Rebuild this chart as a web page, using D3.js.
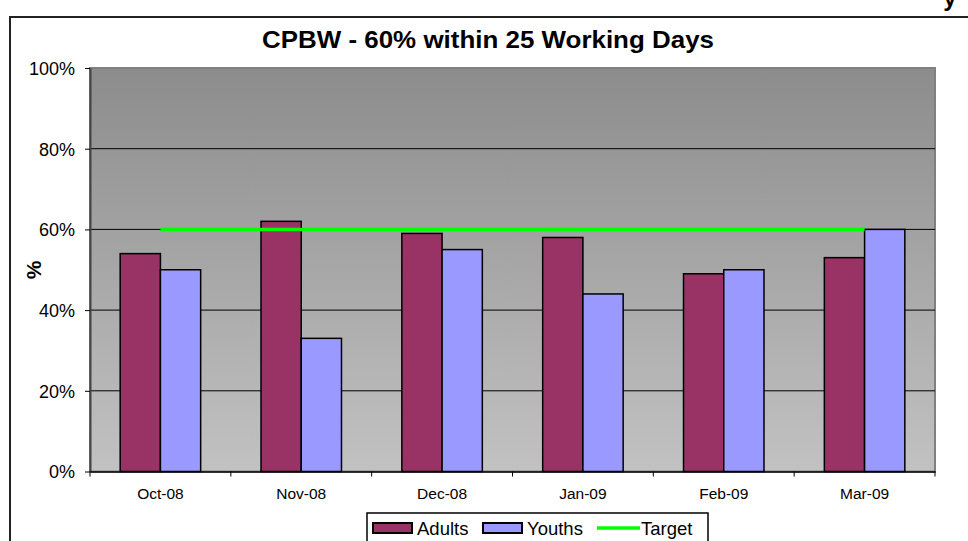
<!DOCTYPE html>
<html lang="en">
<head>
  <meta charset="UTF-8">
  <script src="https://d3js.org/d3.v7.min.js"></script>
  <style>
    body {
      margin: 0;
      padding: 0;
      background: #fff;
      overflow: hidden;
    }
    text {
      font-family: Arial, "Liberation Sans", sans-serif;
      fill: #000;
    }
  </style>
</head>
<body>
  <div id="chart"></div>

  <script>
    const months = ["Oct-08", "Nov-08", "Dec-08", "Jan-09", "Feb-09", "Mar-09"];
    const series = ["Adults", "Youths"];
    const adults = [54, 62, 59, 58, 49, 53];
    const youths = [50, 33, 55, 44, 50, 60];
    const target = [60, 60, 60, 60, 60, 60];
    const yTicks = [0, 20, 40, 60, 80, 100];

    const colors = { Adults: "#993366", Youths: "#9999ff", Target: "#00ff00" };

    const width = 968, height = 541;
    const plot = { left: 90, right: 935, top: 68, bottom: 471.5 };

    const svg = d3.select("#chart")
      .append("svg")
      .attr("width", width)
      .attr("height", height);

    // gradient for plot background
    const grad = svg.append("defs").append("linearGradient")
      .attr("id", "bg")
      .attr("x1", 0).attr("y1", 0).attr("x2", 0).attr("y2", 1);
    grad.append("stop").attr("offset", "0%").attr("stop-color", "#8c8c8c");
    grad.append("stop").attr("offset", "100%").attr("stop-color", "#c2c2c2");

    // outer chart border (right/bottom run off the page)
    svg.append("rect")
      .attr("x", 10).attr("y", 17)
      .attr("width", 1000).attr("height", 600)
      .attr("fill", "none")
      .attr("stroke", "#222")
      .attr("stroke-width", 2);

    // cut-off text fragment above the chart frame
    svg.append("text")
      .attr("x", 950).attr("y", 6)
      .attr("text-anchor", "middle")
      .style("font-size", "24px")
      .style("font-weight", "bold")
      .text("y");

    const x = d3.scaleBand()
      .domain(months)
      .range([plot.left, plot.right])
      .padding(0);

    const xSub = d3.scaleBand()
      .domain(series)
      .range([0, x.bandwidth()])
      .paddingInner(0)
      .paddingOuter(0.75);

    const y = d3.scaleLinear()
      .domain([0, 100])
      .range([plot.bottom, plot.top]);

    // plot area
    svg.append("rect")
      .attr("x", plot.left).attr("y", plot.top)
      .attr("width", plot.right - plot.left)
      .attr("height", plot.bottom - plot.top)
      .attr("fill", "url(#bg)")
      .attr("stroke", "#808080")
      .attr("stroke-width", 2);

    // gridlines
    svg.append("g")
      .selectAll("line")
      .data(yTicks.filter(d => d > 0 && d < 100))
      .enter()
      .append("line")
      .attr("x1", plot.left).attr("x2", plot.right)
      .attr("y1", d => y(d)).attr("y2", d => y(d))
      .attr("stroke", "#000")
      .attr("stroke-width", 1);

    // bars
    const data = months.map((m, i) => ({ month: m, Adults: adults[i], Youths: youths[i] }));

    svg.append("g")
      .selectAll("g")
      .data(data)
      .enter()
      .append("g")
      .attr("transform", d => `translate(${x(d.month)},0)`)
      .selectAll("rect")
      .data(d => series.map(s => ({ key: s, value: d[s] })))
      .enter()
      .append("rect")
      .attr("x", d => xSub(d.key))
      .attr("y", d => y(d.value))
      .attr("width", xSub.bandwidth())
      .attr("height", d => y(0) - y(d.value))
      .attr("fill", d => colors[d.key])
      .attr("stroke", "#000")
      .attr("stroke-width", 1.5);

    // target line
    const line = d3.line()
      .x((d, i) => x(months[i]) + x.bandwidth() / 2)
      .y(d => y(d));

    svg.append("path")
      .datum(target)
      .attr("d", line)
      .attr("fill", "none")
      .attr("stroke", colors.Target)
      .attr("stroke-width", 3.5);

    // y axis
    const yAxis = svg.append("g")
      .attr("transform", `translate(${plot.left},0)`)
      .call(d3.axisLeft(y).tickValues(yTicks).tickFormat(d => d + "%").tickSize(5).tickSizeOuter(0));
    yAxis.select(".domain").attr("stroke", "#444").attr("stroke-width", 2);
    yAxis.selectAll(".tick line").attr("stroke", "#000");
    yAxis.selectAll(".tick text")
      .attr("x", -15)
      .attr("dy", "0.35em")
      .style("font-size", "18px")
      .style("font-family", "Arial, 'Liberation Sans', sans-serif");

    // x axis
    const xAxis = svg.append("g")
      .attr("transform", `translate(0,${plot.bottom})`)
      .call(d3.axisBottom(x).tickSize(0));
    xAxis.select(".domain").attr("stroke", "#000").attr("stroke-width", 1.5);
    xAxis.selectAll(".tick text")
      .attr("y", 27)
      .attr("dy", 0)
      .style("font-size", "15.5px")
      .style("font-family", "Arial, 'Liberation Sans', sans-serif");

    // category boundary ticks
    svg.append("g")
      .selectAll("line")
      .data(months.concat(["end"]))
      .enter()
      .append("line")
      .attr("x1", (d, i) => plot.left + i * x.bandwidth())
      .attr("x2", (d, i) => plot.left + i * x.bandwidth())
      .attr("y1", plot.bottom)
      .attr("y2", plot.bottom + 5)
      .attr("stroke", "#000");

    // title
    svg.append("text")
      .attr("x", 488)
      .attr("y", 48)
      .attr("text-anchor", "middle")
      .attr("textLength", 452)
      .attr("lengthAdjust", "spacingAndGlyphs")
      .style("font-size", "24px")
      .style("font-weight", "bold")
      .text("CPBW - 60% within 25 Working Days");

    // y axis title
    svg.append("text")
      .attr("transform", "translate(41,270) rotate(-90)")
      .attr("text-anchor", "middle")
      .style("font-size", "21px")
      .style("font-weight", "bold")
      .text("%");

    // legend
    const legend = svg.append("g");
    legend.append("rect")
      .attr("x", 367).attr("y", 513)
      .attr("width", 341).attr("height", 40)
      .attr("fill", "#fff")
      .attr("stroke", "#000")
      .attr("stroke-width", 1.5);

    const legendItems = [
      { key: "Adults", x: 373, type: "box" },
      { key: "Youths", x: 483, type: "box" },
      { key: "Target", x: 597, type: "line" }
    ];

    legendItems.forEach(it => {
      if (it.type === "box") {
        legend.append("rect")
          .attr("x", it.x).attr("y", 523)
          .attr("width", 39).attr("height", 10)
          .attr("fill", colors[it.key])
          .attr("stroke", "#000")
          .attr("stroke-width", 2);
      } else {
        legend.append("line")
          .attr("x1", it.x).attr("x2", it.x + 43)
          .attr("y1", 528).attr("y2", 528)
          .attr("stroke", colors[it.key])
          .attr("stroke-width", 3.5);
      }
      legend.append("text")
        .attr("x", it.x + 44)
        .attr("y", 535)
        .style("font-size", "18.5px")
        .text(it.key);
    });
  </script>
</body>
</html>
